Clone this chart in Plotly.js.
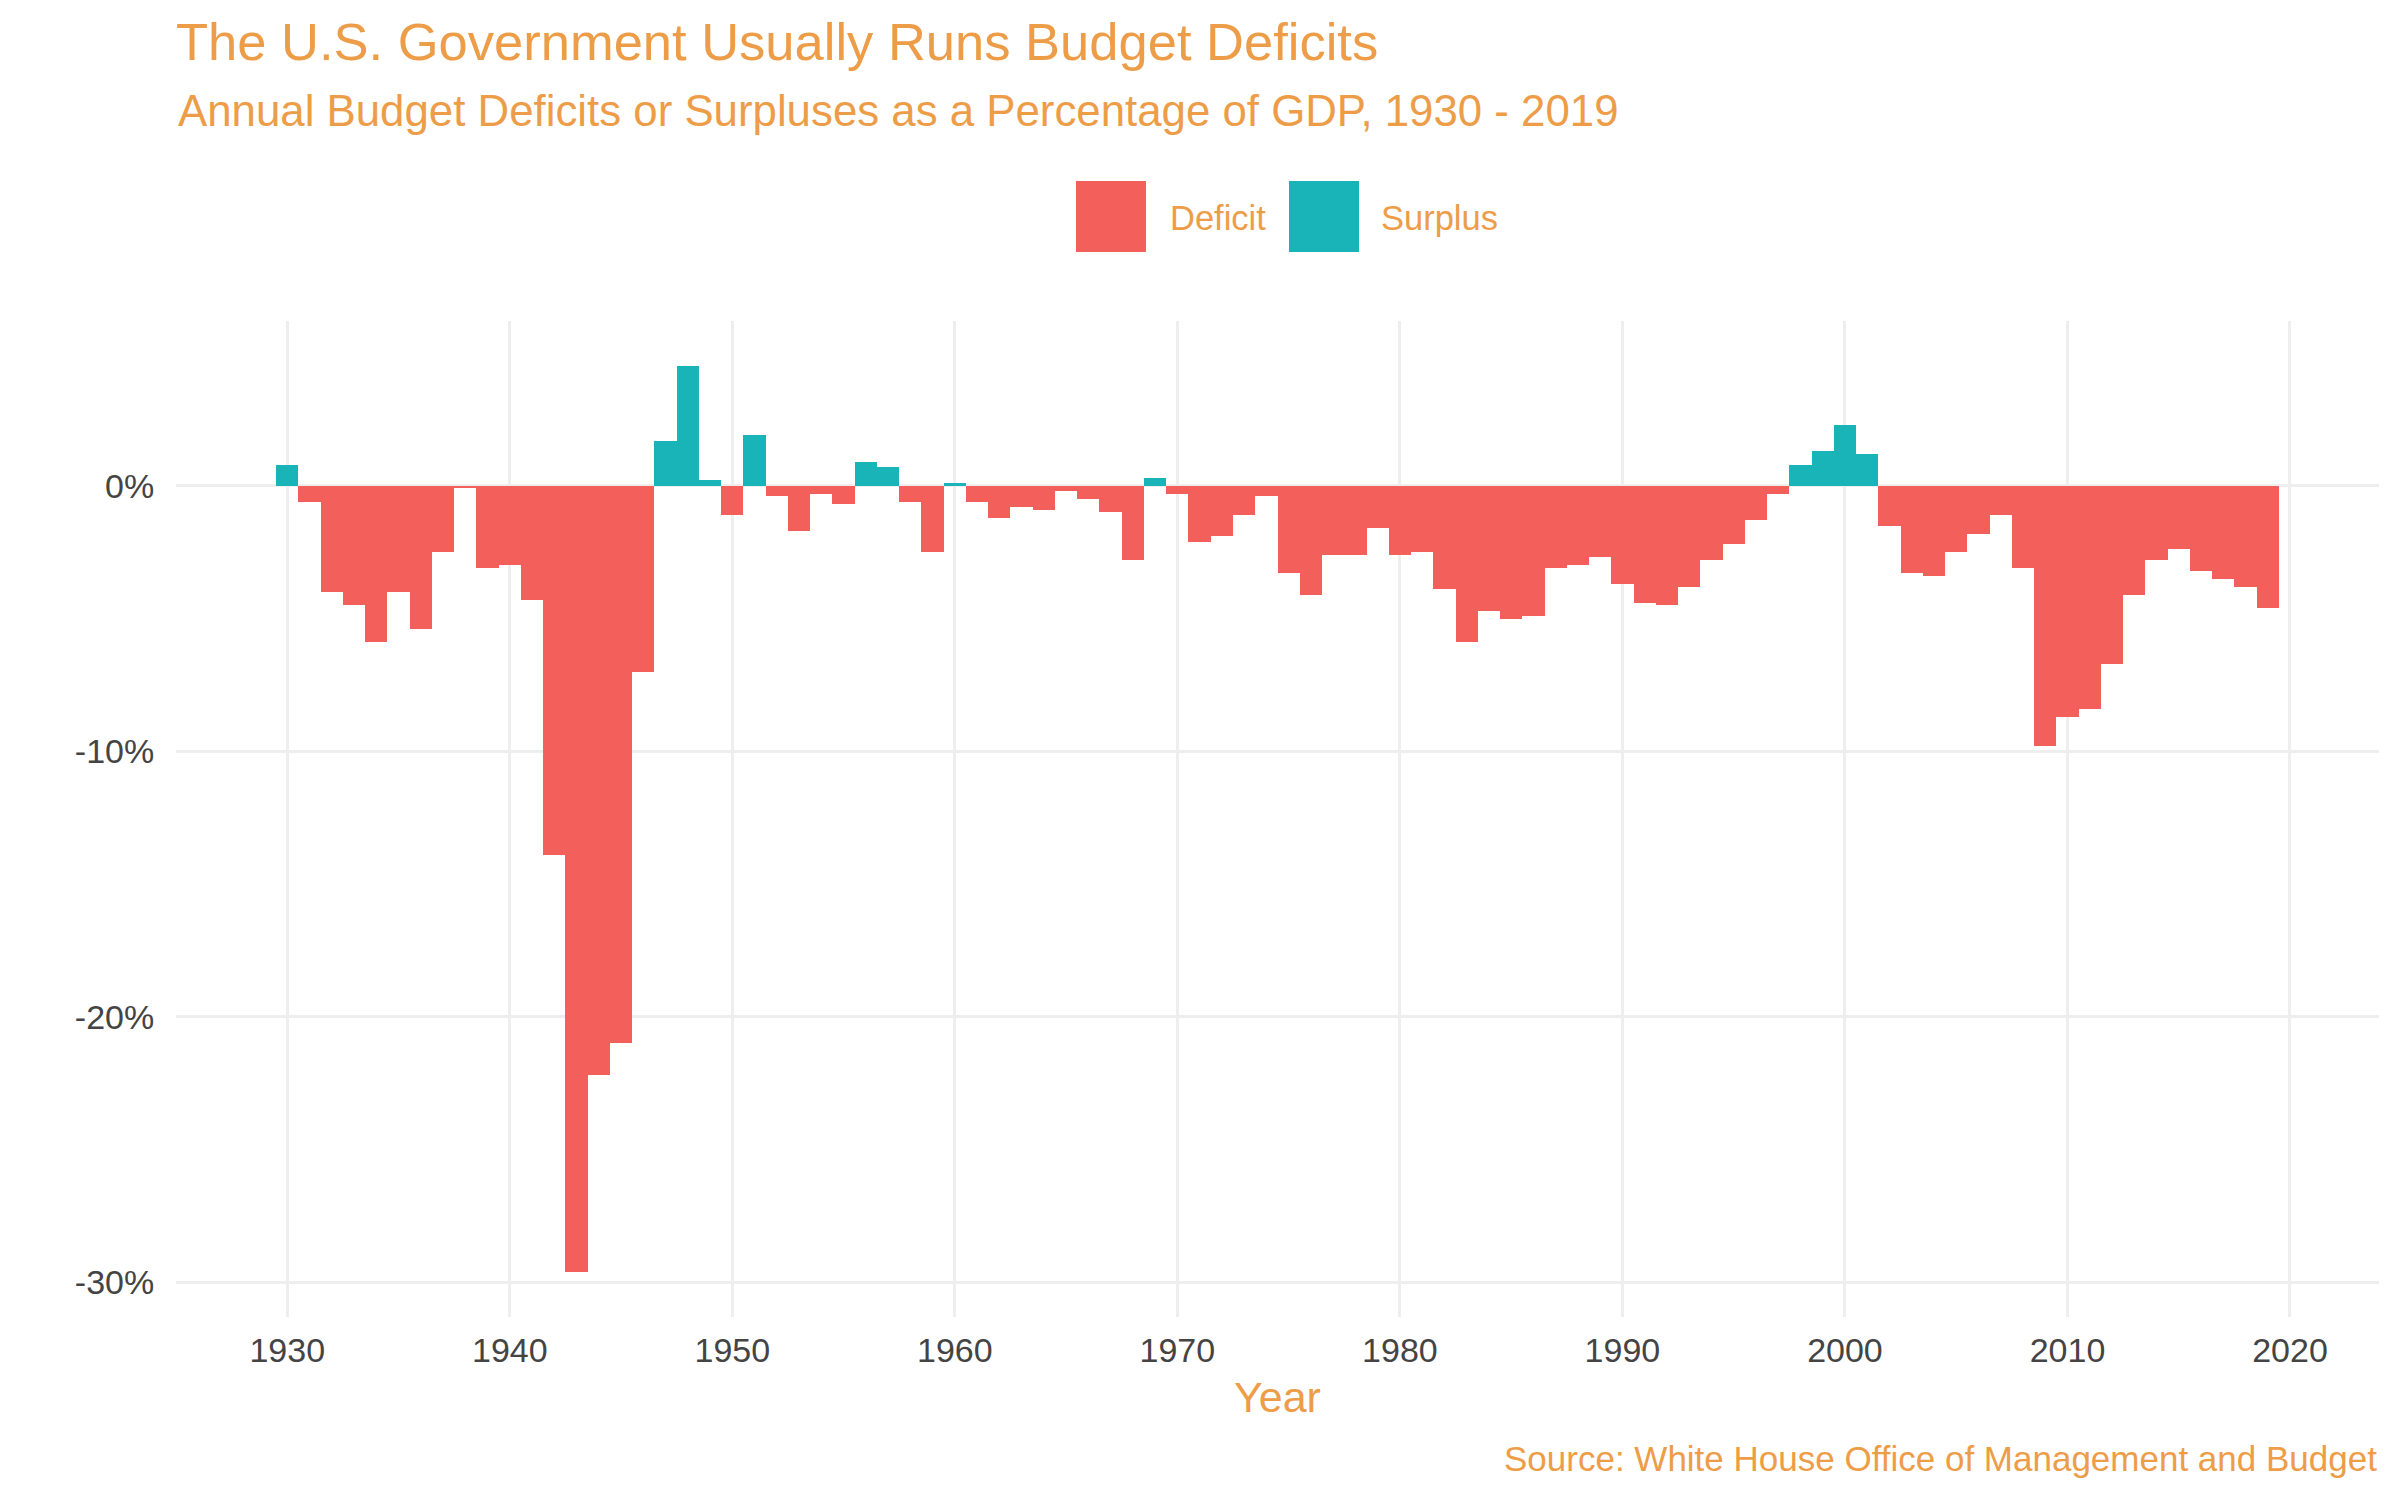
<!DOCTYPE html>
<html>
<head>
<meta charset="utf-8">
<script src="https://cdn.plot.ly/plotly-3.0.1.min.js"></script>
<style>html,body{margin:0;padding:0;background:#fff;}#chart{width:2400px;height:1500px;}</style>
</head>
<body>
<div id="chart"></div>
<script>
// ---- Data (OMB Historical Table 1.2, surplus(+)/deficit(-) as % of GDP) ----
const years = [];
for (let y = 1930; y <= 2019; y++) years.push(y);
const balancePct = [
  0.8, -0.6, -4.0, -4.5, -5.9, -4.0, -5.4, -2.5, -0.1, -3.1,   // 1930-1939
  -3.0, -4.3, -13.9, -29.6, -22.2, -21.0, -7.0, 1.7, 4.5, 0.2, // 1940-1949
  -1.1, 1.9, -0.4, -1.7, -0.3, -0.7, 0.9, 0.7, -0.6, -2.5,     // 1950-1959
  0.1, -0.6, -1.2, -0.8, -0.9, -0.2, -0.5, -1.0, -2.8, 0.3,    // 1960-1969
  -0.3, -2.1, -1.9, -1.1, -0.4, -3.3, -4.1, -2.6, -2.6, -1.6,  // 1970-1979
  -2.6, -2.5, -3.9, -5.9, -4.7, -5.0, -4.9, -3.1, -3.0, -2.7,  // 1980-1989
  -3.7, -4.4, -4.5, -3.8, -2.8, -2.2, -1.3, -0.3, 0.8, 1.3,    // 1990-1999
  2.3, 1.2, -1.5, -3.3, -3.4, -2.5, -1.8, -1.1, -3.1, -9.8,    // 2000-2009
  -8.7, -8.4, -6.7, -4.1, -2.8, -2.4, -3.2, -3.5, -3.8, -4.6   // 2010-2019
];
const seriesNames = ["Deficit", "Surplus"];
const xTickVals = [1930, 1940, 1950, 1960, 1970, 1980, 1990, 2000, 2010, 2020];
const yTickVals = [-30, -20, -10, 0];
const yTickText = ["-30%", "-20%", "-10%", "0%"];

const titleText = "The U.S. Government Usually Runs Budget Deficits";
const subtitleText = "Annual Budget Deficits or Surpluses as a Percentage of GDP, 1930 - 2019";
const xTitleText = "Year";
const captionText = "Source: White House Office of Management and Budget";

// ---- Style ----
const RED = "#F35F5B";
const TEAL = "#19B4B8";
const ORANGE = "#ED9D48";
const TICK = "#444444";
const GRID = "#EEEEEE";
const FONT = "Liberation Sans, Arial, Helvetica, sans-serif";

const defX = [], defY = [], surX = [], surY = [];
years.forEach((yr, i) => {
  const v = balancePct[i];
  if (v < 0) { defX.push(yr); defY.push(v); } else { surX.push(yr); surY.push(v); }
});

const traces = [
  {type: "bar", name: seriesNames[0], x: defX, y: defY, width: 1,
   marker: {color: RED, line: {width: 0}}, showlegend: false,
   hovertemplate: "%{x}: %{y}%<extra>Deficit</extra>"},
  {type: "bar", name: seriesNames[1], x: surX, y: surY, width: 1,
   marker: {color: TEAL, line: {width: 0}}, showlegend: false,
   hovertemplate: "%{x}: %{y}%<extra>Surplus</extra>"}
];

// plot area pixel geometry
const W = 2400, H = 1500;
const mL = 176, mR = 21, mT = 321, mB = 183;
const pw = W - mL - mR, ph = H - mT - mB;
const px = v => (v - mL) / pw;          // page x px -> paper
const py = v => (H - mB - v) / ph;      // page y px -> paper

const layout = {
  width: W, height: H,
  paper_bgcolor: "#fff", plot_bgcolor: "#fff",
  margin: {l: mL, r: mR, t: mT, b: mB, pad: 0},
  font: {family: FONT, color: TICK},
  barmode: "overlay",
  bargap: 0,
  title: {
    text: titleText,
    font: {family: FONT, size: 52.5, color: ORANGE},
    xref: "container", x: mL / W, xanchor: "left",
    yref: "container", y: 1 - 42 / H, yanchor: "middle"
  },
  xaxis: {
    range: [1925, 2024],
    tickvals: xTickVals,
    showgrid: true, gridcolor: GRID, gridwidth: 3,
    zeroline: false, showline: false,
    ticks: "outside", ticklen: 3, tickcolor: "rgba(0,0,0,0)",
    tickfont: {family: FONT, size: 34, color: TICK},
    title: {text: xTitleText, font: {family: FONT, size: 43, color: ORANGE}, standoff: 14},
    fixedrange: true
  },
  yaxis: {
    range: [-31.305, 6.205],
    tickvals: yTickVals, ticktext: yTickText,
    showgrid: true, gridcolor: GRID, gridwidth: 3,
    zeroline: false, showline: false,
    ticks: "outside", ticklen: 14, tickcolor: "rgba(0,0,0,0)",
    tickfont: {family: FONT, size: 34, color: TICK},
    fixedrange: true
  },
  shapes: [
    {type: "rect", xref: "paper", yref: "paper",
     x0: px(1076), x1: px(1146), y0: py(252), y1: py(181),
     fillcolor: RED, line: {width: 0}},
    {type: "rect", xref: "paper", yref: "paper",
     x0: px(1289), x1: px(1359), y0: py(252), y1: py(181),
     fillcolor: TEAL, line: {width: 0}}
  ],
  annotations: [
    {text: subtitleText, xref: "paper", yref: "paper", x: 0, y: py(110.5),
     xanchor: "left", yanchor: "middle", showarrow: false,
     font: {family: FONT, size: 43.8, color: ORANGE}},
    {text: seriesNames[0], xref: "paper", yref: "paper", x: px(1168), y: py(217.5),
     xanchor: "left", yanchor: "middle", showarrow: false,
     font: {family: FONT, size: 34.5, color: ORANGE}},
    {text: seriesNames[1], xref: "paper", yref: "paper", x: px(1379), y: py(217.5),
     xanchor: "left", yanchor: "middle", showarrow: false,
     font: {family: FONT, size: 34.5, color: ORANGE}},
    {text: captionText, xref: "paper", yref: "paper", x: 1, y: py(1458),
     xanchor: "right", yanchor: "middle", showarrow: false,
     font: {family: FONT, size: 35, color: ORANGE}}
  ]
};

Plotly.newPlot("chart", traces, layout, {displayModeBar: false, staticPlot: true});
</script>
</body>
</html>
